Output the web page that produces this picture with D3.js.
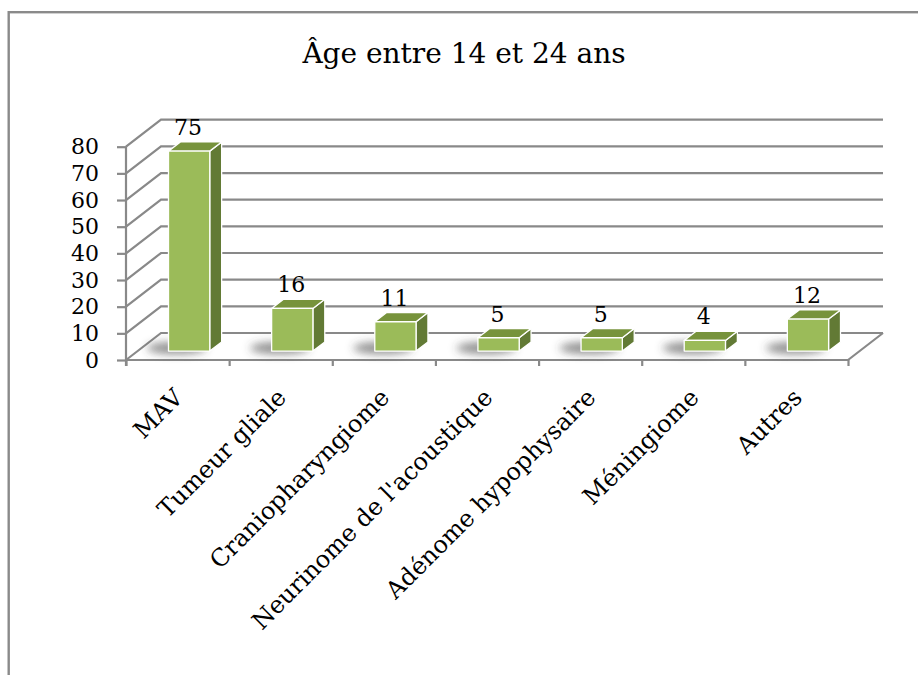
<!DOCTYPE html>
<html>
<head>
<meta charset="utf-8">
<script src="https://cdn.jsdelivr.net/npm/d3@7"></script>
<style>
  html, body { margin: 0; padding: 0; background: #fff; }
  svg { display: block; }
  text { font-family: "DejaVu Serif", "Liberation Serif", serif; fill: #000; }
</style>
</head>
<body>
<svg id="chart" width="918" height="675"></svg>
<script>
// Data
const chartTitle = "Âge entre 14 et 24 ans";
const categories = ["MAV", "Tumeur gliale", "Craniopharyngiome", "Neurinome de l'acoustique",
                    "Adénome hypophysaire", "Méningiome", "Autres"];
const values = [75, 16, 11, 5, 5, 4, 12];
const yTickValues = [0, 10, 20, 30, 40, 50, 60, 70, 80];

// Geometry of the 3-D plot box
const W = 918, H = 675;
const X0 = 126, X1 = 848;          // front edge of the floor
const Y0 = 360, YTOP = 146.7;      // value 0 and value 80 on the front plane
const DX = 35, DY = -27;           // depth vector (front -> back wall)
const F0 = 0.33, F1 = 0.67;        // front / back depth of the columns

const gridColor = "#898989";
const colFront = "#9bbb59", colTop = "#77933c", colSide = "#627a35";

const svg = d3.select("#chart");

// Outer frame
svg.append("rect")
  .attr("x", 8.7).attr("y", 12.2)
  .attr("width", W + 20).attr("height", H + 20)
  .attr("fill", "none").attr("stroke", "#8a8a8a").attr("stroke-width", 2.4);

// Title
svg.append("text")
  .attr("x", 464).attr("y", 63)
  .attr("text-anchor", "middle")
  .style("font-size", "28px")
  .text(chartTitle);

const x = d3.scaleBand().domain(categories).range([X0, X1])
  .paddingInner(0.6).paddingOuter(0.3);
const y = d3.scaleLinear().domain([0, 80]).range([Y0, YTOP]);
const xEdge = d3.scaleLinear().domain([0, categories.length]).range([X0, X1]);

const P = (px, py, f) => [px + f * DX, py + f * DY];
const line = d3.line();

// Side wall diagonals + back wall gridlines
const grid = svg.append("g").attr("fill", "none").attr("stroke", gridColor).attr("stroke-width", 2.2);
yTickValues.forEach(v => {
  grid.append("path").attr("d", line([[X0, y(v)], P(X0, y(v), 1), P(X1, y(v), 1)]));
});
// Floor front and right edges
grid.append("path").attr("d", line([[X0, Y0], [X1, Y0], P(X1, Y0, 1)]));

// Soft shadows beneath the columns
const defs = svg.append("defs");
defs.append("filter").attr("id", "soft").attr("x", "-50%").attr("y", "-100%")
  .attr("width", "200%").attr("height", "300%")
  .append("feGaussianBlur").attr("stdDeviation", 4);

const shadows = svg.append("g").attr("filter", "url(#soft)");
categories.forEach((c, i) => {
  const bx = x(c), bw = x.bandwidth();
  const [fx, fy] = P(bx, Y0, F0);
  shadows.append("ellipse")
    .attr("cx", fx + bw * 0.2).attr("cy", fy - 3)
    .attr("rx", bw * 0.72).attr("ry", 6)
    .attr("fill", "#444").attr("opacity", 0.6);
});

// Columns
const bars = svg.append("g").attr("stroke", "#fff").attr("stroke-width", 1.3).attr("stroke-linejoin", "round");
categories.forEach((c, i) => {
  const v = values[i];
  const bx = x(c), bw = x.bandwidth();
  const a = P(bx, y(v), F0), b = P(bx + bw, y(v), F0);
  const bb = P(bx + bw, y(v), F1), ab = P(bx, y(v), F1);
  const b0 = P(bx + bw, Y0, F0), bb0 = P(bx + bw, Y0, F1), a0 = P(bx, Y0, F0);
  bars.append("path").attr("fill", colSide).attr("d", line([b, bb, bb0, b0]) + "Z");
  bars.append("path").attr("fill", colTop).attr("d", line([a, b, bb, ab]) + "Z");
  bars.append("path").attr("fill", colFront).attr("d", line([a, b, b0, a0]) + "Z");
});

// Value labels
svg.append("g").selectAll("text").data(categories).join("text")
  .attr("x", (c) => P(x(c) + x.bandwidth() / 2, 0, F0)[0] - 1)
  .attr("y", (c, i) => P(0, y(values[i]), F0)[1] - 16)
  .attr("text-anchor", "middle")
  .style("font-size", "22px")
  .text((c, i) => values[i]);

// Vertical axis
const yAxis = svg.append("g").attr("transform", `translate(${X0},0)`)
  .call(d3.axisLeft(y).tickValues(yTickValues).tickSize(9).tickPadding(18).tickSizeOuter(0));
yAxis.select(".domain").attr("stroke", gridColor).attr("stroke-width", 2.2)
  .attr("d", `M0,${YTOP}V${Y0 + 6}`);
yAxis.selectAll(".tick line").attr("stroke", gridColor).attr("stroke-width", 2.2);
yAxis.selectAll(".tick text")
  .style("font-size", "22px").style("font-family", "DejaVu Serif, serif").attr("fill", "#000");

// Horizontal axis tick marks between categories
const xAxis = svg.append("g").attr("transform", `translate(0,${Y0})`)
  .call(d3.axisBottom(xEdge).tickValues(d3.range(categories.length + 1)).tickSize(6).tickFormat(""));
xAxis.select(".domain").remove();
xAxis.selectAll(".tick line").attr("stroke", gridColor).attr("stroke-width", 2.2);

// Category labels, rotated
svg.append("g").selectAll("text").data(categories).join("text")
  .attr("transform", (c) => `translate(${x(c) + x.bandwidth() / 2 + 1},393) rotate(-45)`)
  .attr("text-anchor", "end")
  .attr("dy", "0.35em")
  .style("font-size", "24px")
  .text((c) => c);
</script>
</body>
</html>
